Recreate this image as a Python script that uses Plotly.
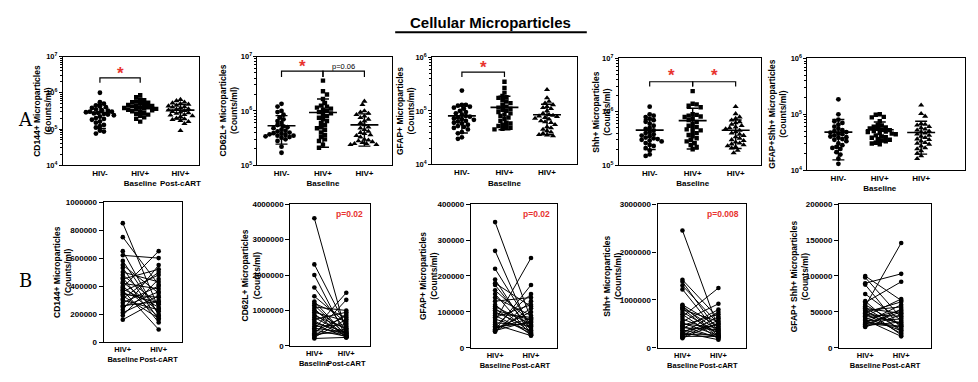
import numpy as np
import plotly.graph_objects as go

W, H = 978, 382
FONT = "Liberation Sans, Arial, sans-serif"
RED = "#e8332f"

# ---------------- data (counts/ml) ----------------
labels_a_full = ["HIV-", "HIV+<br>Baseline", "HIV+<br>Post-cART"]
labels_a_short = ["HIV-", "HIV+<br>Baseline", "HIV+"]
labels_b = ["HIV+<br>Baseline", "HIV+<br>Post-cART"]

cd144_neg = [1.0e6, 5.5e5, 5.0e5, 4.5e5, 4.2e5, 4.0e5, 3.8e5, 3.5e5, 3.3e5, 3.2e5, 3.0e5, 3.0e5, 2.9e5, 2.8e5, 2.7e5,
             2.6e5, 2.5e5, 2.4e5, 2.2e5, 2.0e5, 1.9e5, 1.8e5, 1.6e5, 1.5e5, 1.3e5, 1.2e5, 1.1e5, 9.0e4, 8.5e4, 7.5e4]
cd144_base = [8.5e5, 7.5e5, 6.5e5, 6.2e5, 5.8e5, 5.5e5, 5.3e5, 5.0e5, 4.8e5, 4.6e5, 4.5e5, 4.3e5, 4.2e5, 4.0e5, 3.9e5,
              3.8e5, 3.7e5, 3.6e5, 3.5e5, 3.4e5, 3.3e5, 3.1e5, 3.0e5, 2.8e5, 2.6e5, 2.5e5, 2.3e5, 2.1e5, 1.9e5, 1.6e5]
cd144_post = [2.4e5, 4.1e5, 1.9e5, 6.0e5, 2.0e5, 3.5e5, 1.6e5, 4.3e5, 2.7e5, 1.4e5, 5.2e5, 2.2e5, 3.8e5, 1.8e5, 6.5e5,
              2.5e5, 9.0e4, 4.8e5, 2.8e5, 3.2e5, 1.7e5, 5.0e5, 2.3e5, 4.0e5, 2.9e5, 3.6e5, 5.5e5, 3.3e5, 4.5e5, 3.0e5]

cd62l_neg = [1.35e6, 1.2e6, 1.0e6, 9.5e5, 8.5e5, 7.5e5, 7.0e5, 6.5e5, 6.0e5, 5.5e5, 5.2e5, 5.0e5, 4.8e5, 4.5e5, 4.3e5,
             4.2e5, 4.0e5, 3.9e5, 3.8e5, 3.7e5, 3.6e5, 3.5e5, 3.5e5, 3.4e5, 3.3e5, 3.2e5, 3.0e5, 2.8e5, 2.2e5, 1.7e5]
cd62l_base = [3.6e6, 2.3e6, 2.0e6, 1.65e6, 1.4e6, 1.25e6, 1.2e6, 1.15e6, 1.1e6, 1.05e6, 1.0e6, 9.5e5, 9.0e5, 8.5e5, 8.0e5,
              7.5e5, 7.0e5, 6.5e5, 6.0e5, 5.5e5, 5.0e5, 4.8e5, 4.5e5, 4.0e5, 3.6e5, 3.3e5, 3.0e5, 2.8e5, 2.4e5, 2.1e5]
cd62l_post = [3.5e5, 5.5e5, 2.5e5, 4.2e5, 6.5e5, 2.9e5, 8.0e5, 3.0e5, 1.0e6, 2.4e5, 4.5e5, 7.0e5, 2.6e5, 5.0e5, 3.3e5,
              9.5e5, 2.8e5, 4.0e5, 2.5e5, 6.0e5, 3.8e5, 1.5e6, 2.7e5, 8.5e5, 3.6e5, 1.3e6, 4.8e5, 9.0e5, 7.5e5, 2.4e5]

gfap_neg = [2.4e5, 1.3e5, 1.3e5, 1.25e5, 1.2e5, 1.15e5, 1.1e5, 1.0e5, 9.5e4, 9.0e4, 8.5e4, 8.0e4, 7.8e4, 7.5e4, 7.2e4,
            7.0e4, 6.8e4, 6.5e4, 6.3e4, 6.0e4, 5.8e4, 5.5e4, 5.2e4, 5.0e4, 4.8e4, 4.5e4, 4.0e4, 3.8e4, 3.2e4, 3.0e4]
gfap_base = [3.5e5, 2.7e5, 2.2e5, 1.9e5, 1.8e5, 1.75e5, 1.6e5, 1.5e5, 1.4e5, 1.3e5, 1.2e5, 1.15e5, 1.1e5, 1.05e5, 1.0e5,
             9.5e4, 9.0e4, 8.5e4, 8.0e4, 7.5e4, 7.0e4, 6.5e4, 6.0e4, 5.8e4, 5.5e4, 5.2e4, 5.0e4, 4.8e4, 4.6e4, 4.5e4]
gfap_post = [8.0e4, 4.5e4, 6.0e4, 3.8e4, 1.15e5, 5.0e4, 7.2e4, 3.6e4, 9.0e4, 1.4e5, 4.2e4, 6.5e4, 3.5e4, 7.8e4, 5.5e4,
             8.5e4, 4.0e4, 1.2e5, 4.8e4, 2.5e5, 6.2e4, 3.4e4, 1.5e5, 7.0e4, 8.2e4, 1.0e5, 1.75e5, 7.5e4, 1.3e5, 1.1e5]

shh_neg = [1.25e6, 9.0e5, 8.5e5, 8.0e5, 7.5e5, 7.0e5, 6.5e5, 6.0e5, 5.5e5, 5.0e5, 4.8e5, 4.5e5, 4.2e5, 4.0e5, 3.8e5,
           3.6e5, 3.5e5, 3.3e5, 3.2e5, 3.1e5, 3.0e5, 2.9e5, 2.8e5, 2.6e5, 2.4e5, 2.3e5, 2.1e5, 1.9e5, 1.6e5, 1.5e5]
shh_base = [2.45e6, 1.42e6, 1.38e6, 1.3e6, 1.22e6, 9.0e5, 8.8e5, 8.5e5, 8.2e5, 8.0e5, 7.5e5, 7.0e5, 6.5e5, 6.0e5, 5.5e5,
            5.2e5, 5.0e5, 4.7e5, 4.5e5, 4.2e5, 4.0e5, 3.7e5, 3.5e5, 3.2e5, 3.0e5, 2.8e5, 2.6e5, 2.4e5, 2.2e5, 2.0e5]
shh_post = [4.0e5, 6.2e5, 3.4e5, 5.0e5, 2.9e5, 4.5e5, 2.5e5, 3.6e5, 2.2e5, 5.5e5, 3.0e5, 1.9e5, 1.25e6, 3.2e5, 9.2e5,
            2.6e5, 4.2e5, 7.0e5, 2.1e5, 3.8e5, 8.0e5, 2.3e5, 4.8e5, 1.7e5, 7.5e5, 2.7e5, 6.5e5, 2.4e5, 5.8e5, 5.2e5]

gs_neg = [1.85e5, 1.0e5, 8.0e4, 7.5e4, 7.0e4, 6.5e4, 6.0e4, 5.5e4, 5.2e4, 5.0e4, 4.8e4, 4.7e4, 4.5e4, 4.4e4, 4.2e4,
          4.0e4, 3.9e4, 3.8e4, 3.6e4, 3.5e4, 3.3e4, 3.0e4, 2.8e4, 2.6e4, 2.5e4, 2.4e4, 2.1e4, 1.9e4, 1.6e4, 1.3e4]
gs_base = [1.0e5, 9.8e4, 9.0e4, 8.8e4, 7.5e4, 6.5e4, 6.3e4, 6.0e4, 5.8e4, 5.6e4, 5.5e4, 5.3e4, 5.2e4, 5.0e4, 4.9e4,
           4.8e4, 4.6e4, 4.5e4, 4.4e4, 4.2e4, 4.0e4, 3.9e4, 3.8e4, 3.6e4, 3.5e4, 3.4e4, 3.3e4, 3.1e4, 3.0e4, 2.9e4]
gs_post = [6.6e4, 4.2e4, 1.03e5, 2.7e4, 3.8e4, 2.2e4, 9.2e4, 3.1e4, 1.46e5, 2.5e4, 4.8e4, 1.8e4, 5.7e4, 3.3e4, 6.4e4,
           2.0e4, 4.4e4, 3.5e4, 6.8e4, 2.4e4, 5.2e4, 1.6e4, 4.0e4, 3.0e4, 6.0e4, 2.9e4, 5.0e4, 3.6e4, 5.4e4, 4.6e4]

ytitles = ["CD144+ Microparticles<br>(Counts/ml)", "CD62L+ Microparticles<br>(Counts/ml)",
           "GFAP+ Microparticles<br>(Counts/ml)", "Shh+ Microparticles<br>(Counts/ml)",
           "GFAP+Shh+ Microparticles<br>(Counts/ml)"]
ytitles_b = ["CD144+ Microparticles<br>(Counts/ml)", "CD62L+ Microparticles<br>(Counts/ml)",
             "GFAP+ Microparticles<br>(Counts/ml)", "Shh+ Microparticles<br>(Counts/ml)",
             "GFAP+ Shh+ Microparticles<br>(Counts/ml)"]
p_values_b = [None, "p=0.02", "p=0.02", "p=0.008", None]

data_sets = [(cd144_neg, cd144_base, cd144_post), (cd62l_neg, cd62l_base, cd62l_post),
             (gfap_neg, gfap_base, gfap_post), (shh_neg, shh_base, shh_post), (gs_neg, gs_base, gs_post)]

# ---------------- layout specs (pixels) ----------------
A_SPECS = [
    dict(box=(63, 199, 52, 164), log=(4, 7), xr=(-0.92, 2.45), labels=labels_a_full, tx=43,
         brackets=[(0, 1, 74, 79)], stars=[(0.5, 70)], ptext=[]),
    dict(box=(258, 393, 52, 164), log=(5, 7), xr=(-0.58, 2.67), labels=labels_a_short, tx=229,
         brackets=[(0, 1, 67, 73), (1, 2, 67, 73)], stars=[(0.5, 62)], ptext=[(1.5, 62, "p=0.06")]),
    dict(box=(433, 578, 53, 163), log=(4, 6), xr=(-0.70, 2.70), labels=labels_a_short, tx=407,
         brackets=[(0, 1, 68, 73)], stars=[(0.5, 63)], ptext=[]),
    dict(box=(620, 763, 54, 164), log=(5, 7), xr=(-0.72, 2.60), labels=labels_a_short, tx=603,
         brackets=[(0, 1, 78, 83), (1, 2, 78, 83)], stars=[(0.5, 72), (1.5, 72)], ptext=[]),
    dict(box=(809, 967, 54, 169), log=(4, 6), xr=(-0.75, 3.06), labels=labels_a_short, tx=779,
         brackets=[], stars=[], ptext=[]),
]
B_SPECS = [
    dict(box=(104, 182, 202, 346), ymax=1e6, dtick=2e5, xr=(-0.53, 1.64), tx=62),
    dict(box=(291, 371, 204, 350), ymax=4e6, dtick=1e6, xr=(-0.75, 1.75), tx=251),
    dict(box=(472, 558, 204, 352), ymax=4e5, dtick=1e5, xr=(-0.67, 1.72), tx=430),
    dict(box=(659, 748, 204, 352), ymax=3e6, dtick=1e6, xr=(-0.69, 1.78), tx=614),
    dict(box=(841, 933, 204, 352), ymax=2e5, dtick=5e4, xr=(-0.72, 1.83), tx=802),
]


def px(x):
    return x / W


def py(y):
    return 1 - y / H


def swarm_offsets(vals, lo, hi, hpx, upx, d=4.0):
    t = np.log10(np.asarray(vals, float))
    ys = (t - lo) / (hi - lo) * hpx
    order = np.argsort(-ys)
    placed = []
    xs = np.zeros(len(ys))
    step = d * 0.5
    for n, i in enumerate(order):
        y = ys[i]
        k = 0
        chosen = None
        while chosen is None:
            if k == 0:
                cands = [0.0]
            else:
                cands = [k * step, -k * step] if n % 2 == 0 else [-k * step, k * step]
            for c in cands:
                if all((c - a) ** 2 + (y - b) ** 2 >= d * d for a, b in placed):
                    chosen = c
                    break
            k += 1
        xs[i] = chosen
        placed.append((chosen, y))
    return xs / upx


fig = go.Figure()
layout = {}
shapes = []
annotations = []

axis_common = dict(showline=True, linecolor="black", linewidth=1.4, mirror=True, showgrid=False,
                   zeroline=False, tickcolor="black", tickwidth=1.2, tickangle=0,
                   tickfont=dict(family=FONT, size=8, color="black", weight="bold"))
symbols = ["circle", "square", "triangle-up"]
sizes = [4.8, 4.4, 5.4]

for k, (spec, (neg, base, post)) in enumerate(zip(A_SPECS, data_sets)):
    n = k + 1
    xa, ya = f"x{n}", f"y{n}"
    x0, x1, y0, y1 = spec["box"]
    lo, hi = spec["log"]
    upx = (x1 - x0) / (spec["xr"][1] - spec["xr"][0])
    layout[f"xaxis{n}"] = dict(axis_common, domain=[px(x0), px(x1)], anchor=ya, range=list(spec["xr"]),
                               tickmode="array", tickvals=[0, 1, 2], ticktext=spec["labels"], ticks="",
                               tickfont=dict(family=FONT, size=8, color="black", weight="bold"))
    layout[f"yaxis{n}"] = dict(axis_common, domain=[py(y1), py(y0)], anchor=xa, type="log", range=[lo, hi],
                               tickmode="linear", tick0=0, dtick=1, exponentformat="power", ticks="outside",
                               ticklen=3, ticklabelstandoff=0,
                               tickfont=dict(family=FONT, size=6, color="black", weight="bold"),
                               minor=dict(ticks="outside", ticklen=2, tickcolor="black", dtick="D1",
                                          showgrid=False))
    for gi, vals in enumerate([neg, base, post]):
        off = swarm_offsets(vals, lo, hi, y1 - y0, upx)
        fig.add_trace(go.Scatter(x=gi + off, y=vals, mode="markers", xaxis=xa, yaxis=ya, showlegend=False,
                                 marker=dict(symbol=symbols[gi], size=sizes[gi], color="black",
                                             line=dict(width=0))))
        m = float(np.mean(vals))
        s = float(np.std(vals, ddof=1))
        fig.add_trace(go.Scatter(x=[gi], y=[m], mode="markers", xaxis=xa, yaxis=ya, showlegend=False,
                                 marker=dict(size=1, opacity=0),
                                 error_x=dict(type="constant", value=14 / upx, width=0, thickness=1.6,
                                              color="black"),
                                 error_y=dict(type="data", array=[s], width=6, thickness=1.4, color="black")))
    for (ca, cb, yt, yb) in spec["brackets"]:
        shapes.append(dict(type="path", xref=xa, yref="paper", line=dict(color="black", width=1.2),
                           path=f"M {ca},{py(yb)} L {ca},{py(yt)} L {cb},{py(yt)} L {cb},{py(yb)}"))
    for (cx, yy) in spec["stars"]:
        annotations.append(dict(x=cx, xref=xa, y=py(yy), yref="paper", text="*", showarrow=False,
                                font=dict(family=FONT, size=17, color=RED, weight="bold"),
                                yanchor="middle", xanchor="center"))
    for (cx, yy, t) in spec["ptext"]:
        annotations.append(dict(x=cx, xref=xa, y=py(yy), yref="paper", text=t, showarrow=False,
                                font=dict(family=FONT, size=7.5, color="#000000"),
                                yanchor="middle", xanchor="center"))
    annotations.append(dict(x=px(spec["tx"]), y=py((y0 + y1) / 2), xref="paper", yref="paper",
                            text=ytitles[k], textangle=-90, showarrow=False, align="center",
                            font=dict(family=FONT, size=8.5, color="black", weight="bold"),
                            xanchor="center", yanchor="middle"))

for k, (spec, (neg, base, post)) in enumerate(zip(B_SPECS, data_sets)):
    n = k + 6
    xa, ya = f"x{n}", f"y{n}"
    x0, x1, y0, y1 = spec["box"]
    layout[f"xaxis{n}"] = dict(axis_common, domain=[px(x0), px(x1)], anchor=ya, range=list(spec["xr"]),
                               tickmode="array", tickvals=[0, 1], ticktext=labels_b, ticks="",
                               tickfont=dict(family=FONT, size=7.5, color="black", weight="bold"))
    layout[f"yaxis{n}"] = dict(axis_common, domain=[py(y1), py(y0)], anchor=xa, range=[0, spec["ymax"]],
                               tickmode="linear", tick0=0, dtick=spec["dtick"], exponentformat="none",
                               separatethousands=False, tickformat="d", ticks="outside", ticklen=4)
    xs, ys = [], []
    for b, p in zip(base, post):
        xs += [0, 1, None]
        ys += [b, p, None]
    fig.add_trace(go.Scatter(x=xs, y=ys, mode="lines+markers", xaxis=xa, yaxis=ya, showlegend=False,
                             line=dict(color="black", width=1),
                             marker=dict(symbol="circle", size=4.6, color="black")))
    if p_values_b[k]:
        annotations.append(dict(x=px(x1 - 5), y=py(y0 + 10), xref="paper", yref="paper", text=p_values_b[k],
                                showarrow=False, xanchor="right", yanchor="middle",
                                font=dict(family=FONT, size=8.5, color=RED, weight="bold")))
    annotations.append(dict(x=px(spec["tx"]), y=py((y0 + y1) / 2), xref="paper", yref="paper",
                            text=ytitles_b[k], textangle=-90, showarrow=False, align="center",
                            font=dict(family=FONT, size=8.5, color="black", weight="bold"),
                            xanchor="center", yanchor="middle"))

# title and row labels
annotations.append(dict(x=px(492), y=py(17), xref="paper", yref="paper", text="Cellular Microparticles",
                        showarrow=False, xanchor="center", yanchor="middle",
                        font=dict(family=FONT, size=15, color="black", weight="bold")))
shapes.append(dict(type="line", xref="paper", yref="paper", x0=px(396), x1=px(588), y0=py(27), y1=py(27),
                   line=dict(color="black", width=2)))
annotations.append(dict(x=px(26), y=py(117), xref="paper", yref="paper", text="A", showarrow=False,
                        font=dict(family="DejaVu Serif, serif", size=18, color="black"),
                        xanchor="center", yanchor="middle"))
annotations.append(dict(x=px(26), y=py(283), xref="paper", yref="paper", text="B", showarrow=False,
                        font=dict(family="DejaVu Serif, serif", size=18, color="black"),
                        xanchor="center", yanchor="middle"))

fig.update_layout(width=W, height=H, margin=dict(l=0, r=0, t=0, b=0), paper_bgcolor="white",
                  plot_bgcolor="white", showlegend=False, shapes=shapes, annotations=annotations,
                  font=dict(family=FONT, color="black"), **layout)
fig.write_html("out.html", config={"displayModeBar": False},
               post_script="document.body.style.margin='0px';document.body.style.overflow='hidden';")
